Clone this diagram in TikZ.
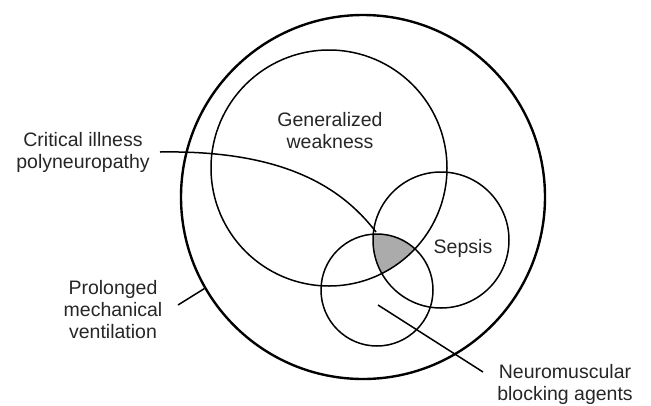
\documentclass[tikz,border=0pt]{standalone}
\usepackage{fontspec}
\setmainfont{Liberation Sans}
\begin{document}
\begin{tikzpicture}[x=1pt,y=-1pt,
  ring/.style={draw=black, line width=1.5pt, circle, inner sep=0pt},
  lab/.style={align=center, font=\fontsize{19.5}{22}\selectfont, inner sep=0pt, text=black!85},
  leader/.style={draw=black, line width=1.5pt}]
\useasboundingbox (0,0) rectangle (651,405);
% shaded intersection
\begin{scope}
  \clip (329,168) circle[radius=118];
  \clip (441,240) circle[radius=68];
  \fill[black!33] (377,290) circle[radius=56];
\end{scope}
\node[ring, line width=2.4pt, minimum size=364pt] (outer) at (363,197) {};
\node[ring, minimum size=236pt] (gw) at (329,168) {};
\node[ring, minimum size=136pt] (sep) at (441,240) {};
\node[ring, minimum size=112pt] (nmb) at (377,290) {};
% labels
\node[lab] (tgw) at (330,131) {Generalized\\weakness};
\node[lab] (tsep) at (463,248) {Sepsis};
\node[lab] (tcip) at (83,152) {Critical illness\\polyneuropathy};
\node[lab] (tpmv) at (113,310) {Prolonged\\mechanical\\ventilation};
\node[lab] (tnmb) at (565,384) {Neuromuscular\\blocking agents};
% leader coordinates
\coordinate (cipstart) at (160,152);
\coordinate (cipend) at (376,232);
\coordinate (pmvstart) at (178,305);
\coordinate (nmbstart) at (378,305);
\coordinate (nmbend) at (483,372);
% leaders
\draw[leader] (cipstart) .. controls (280,150) and (340,185) .. (cipend);
\draw[leader] (pmvstart) -- (outer.210.7);
\draw[leader] (nmbstart) -- (nmbend);
\end{tikzpicture}
\end{document}
